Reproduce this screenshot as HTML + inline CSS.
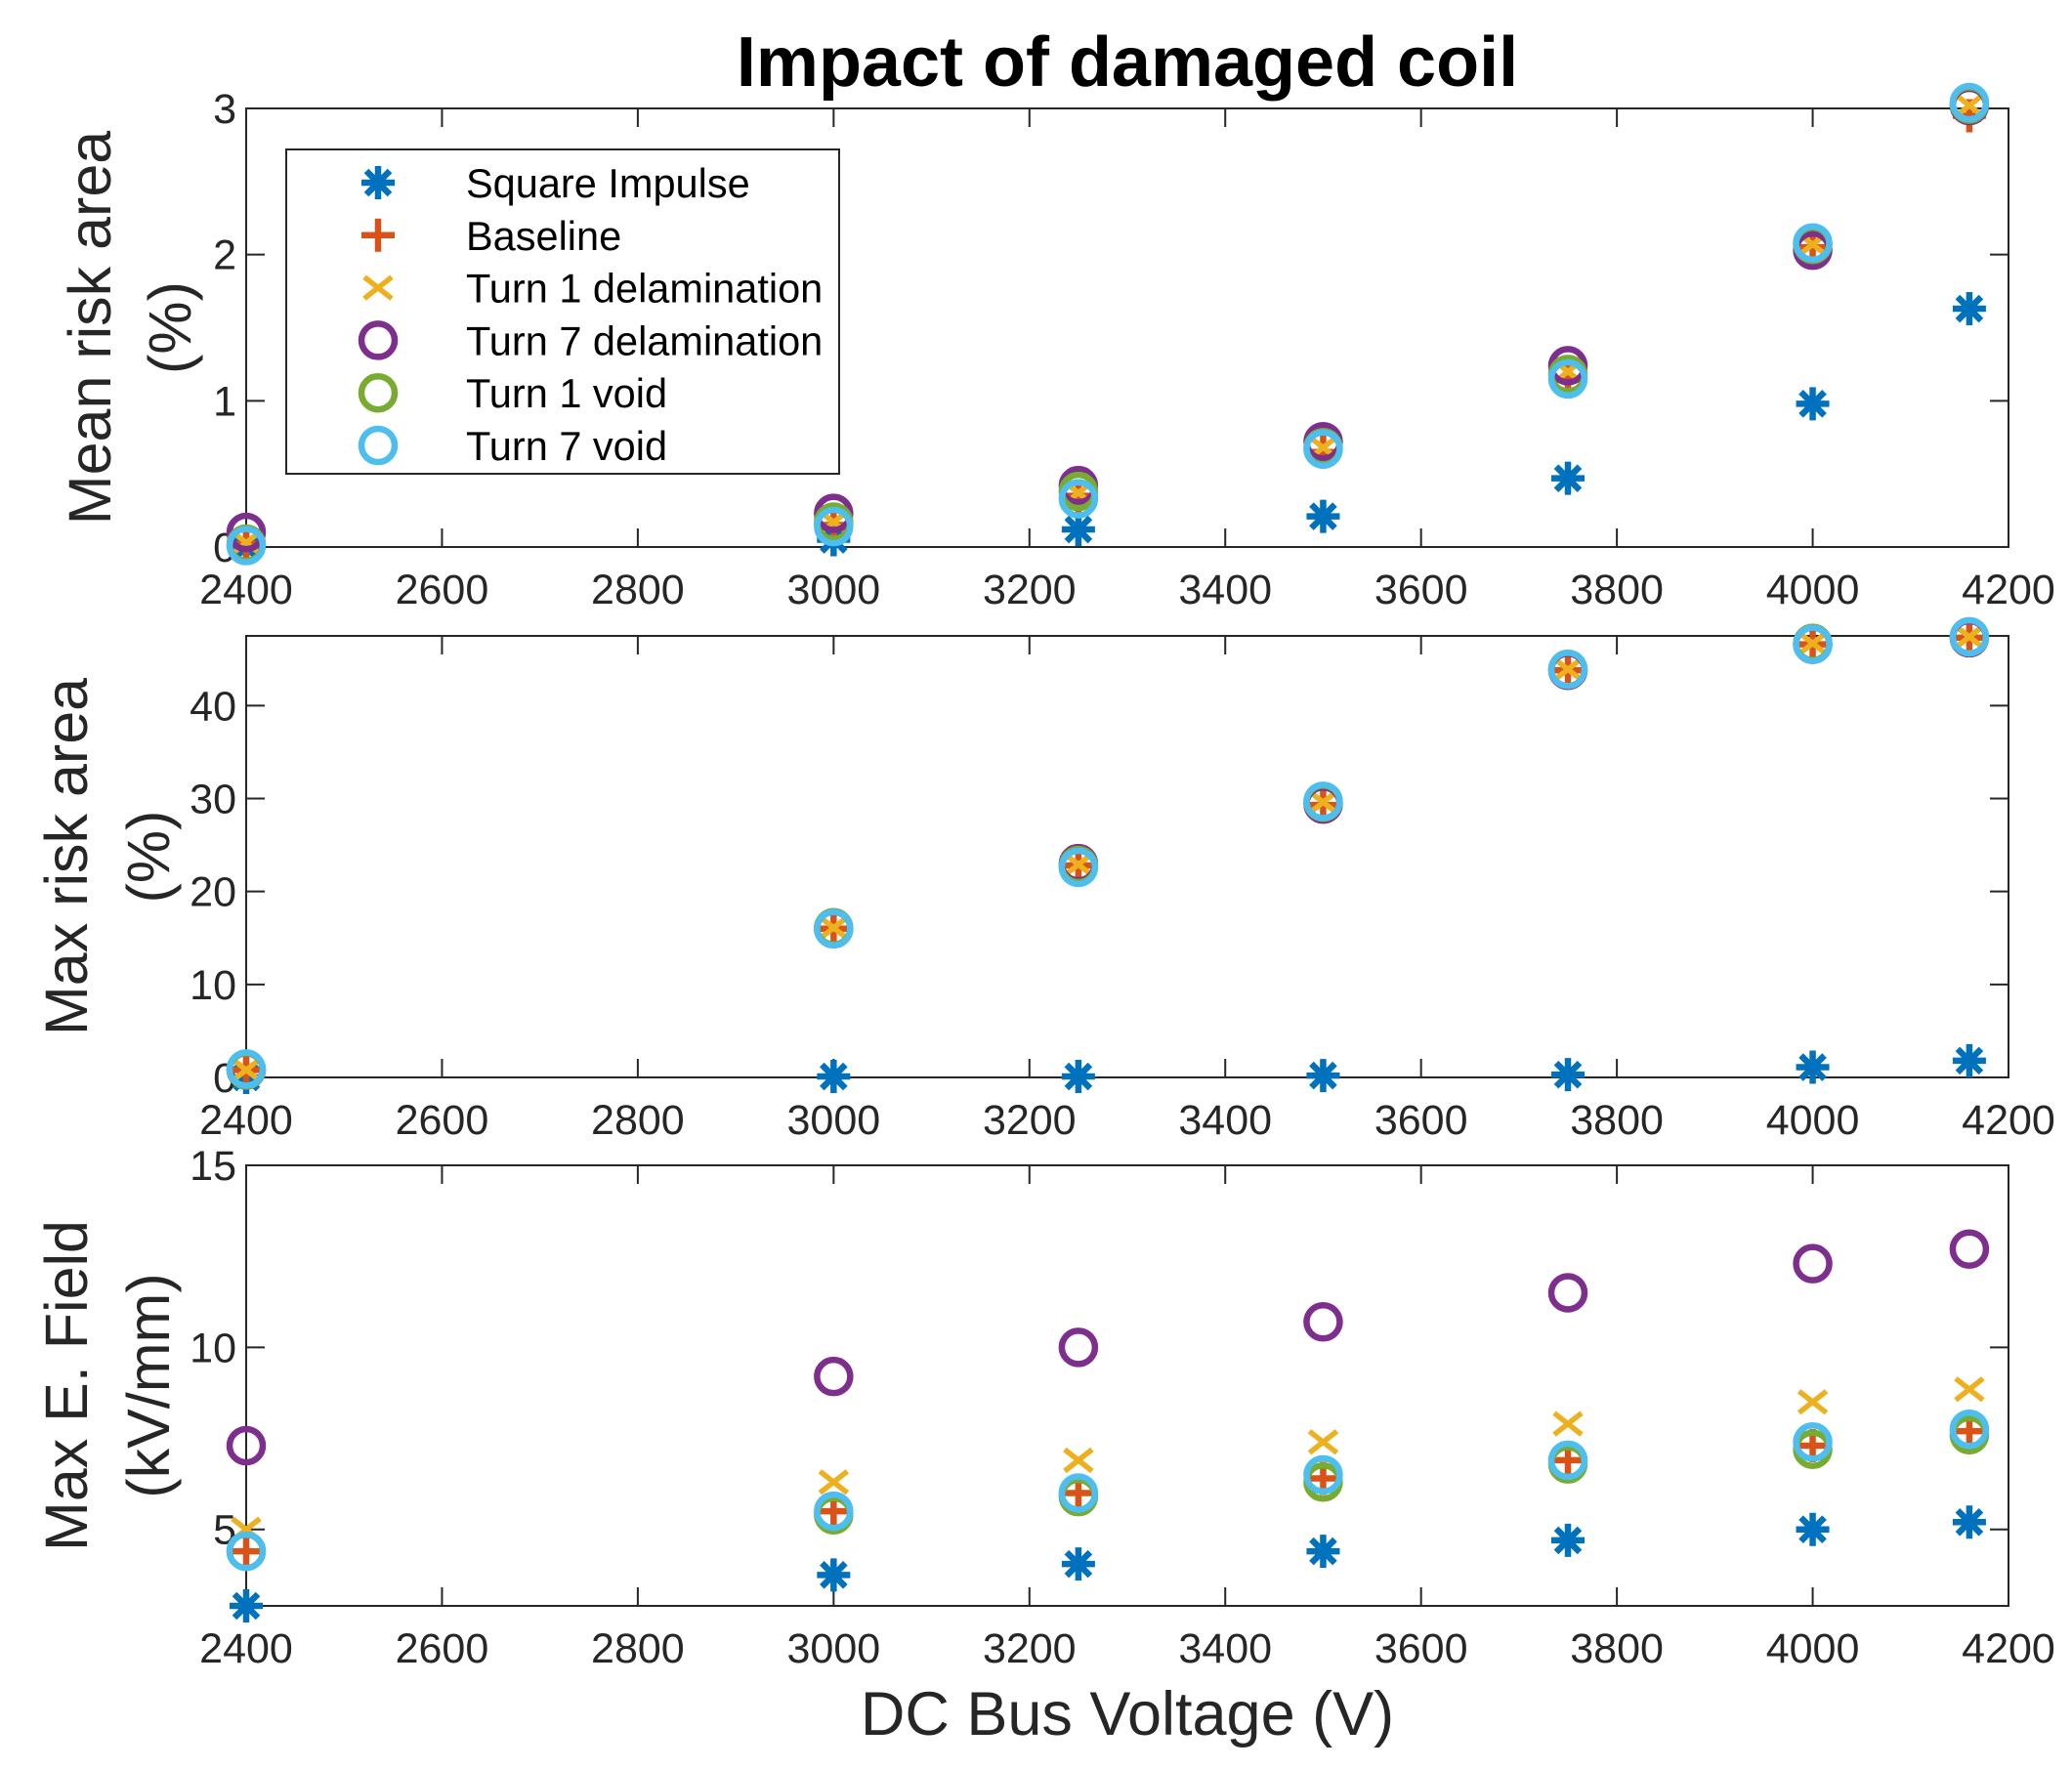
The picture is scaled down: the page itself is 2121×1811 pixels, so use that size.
<!DOCTYPE html>
<html><head><meta charset="utf-8">
<style>
html,body{margin:0;padding:0;background:#fff;}
svg{display:block;font-family:"Liberation Sans",Arial,sans-serif;}
</style></head>
<body>
<svg id="chart" width="2121" height="1811" viewBox="0 0 2121 1811" xmlns="http://www.w3.org/2000/svg">
<rect width="2121" height="1811" fill="#fff"/>
<text x="1154" y="88" text-anchor="middle" font-size="72" font-weight="bold" fill="#000">Impact of damaged coil</text>
<text x="1154" y="1776" text-anchor="middle" font-size="63" fill="#262626">DC Bus Voltage (V)</text>
<g id="panels"></g>
</svg>
<script>
const xValues = [2400, 3000, 3250, 3500, 3750, 4000, 4160];
const xTicks = [2400, 2600, 2800, 3000, 3200, 3400, 3600, 3800, 4000, 4200];
const seriesNames = ["Square Impulse", "Baseline", "Turn 1 delamination", "Turn 7 delamination", "Turn 1 void", "Turn 7 void"];

const meanSquare = [0.0, 0.05, 0.12, 0.21, 0.47, 0.98, 1.63];
const meanBaseline = [0.02, 0.15, 0.35, 0.65, 1.15, 2.05, 2.95];
const meanT1Delam = [0.03, 0.17, 0.37, 0.68, 1.2, 2.07, 3.02];
const meanT7Delam = [0.1, 0.23, 0.42, 0.72, 1.24, 2.03, 3.02];
const meanT1Void = [0.02, 0.17, 0.38, 0.68, 1.18, 2.07, 3.03];
const meanT7Void = [0.01, 0.14, 0.33, 0.67, 1.15, 2.08, 3.04];
const meanTicks = [0, 1, 2, 3];

const maxSquare = [0.0, 0.1, 0.1, 0.2, 0.3, 1.1, 1.8];
const maxBaseline = [0.8, 16.0, 22.8, 29.3, 43.8, 46.6, 47.3];
const maxT1Delam = [0.8, 16.1, 22.9, 29.6, 43.9, 46.7, 47.4];
const maxT7Delam = [0.8, 16.0, 23.0, 29.4, 43.8, 46.6, 47.3];
const maxT1Void = [0.8, 16.1, 22.8, 29.6, 43.9, 46.7, 47.4];
const maxT7Void = [0.9, 16.0, 22.6, 29.7, 43.9, 46.6, 47.4];
const maxTicks = [0, 10, 20, 30, 40];

const fieldSquare = [2.9, 3.75, 4.05, 4.4, 4.7, 5.0, 5.2];
const fieldBaseline = [4.4, 5.5, 6.0, 6.4, 6.9, 7.3, 7.7];
const fieldT1Delam = [5.0, 6.3, 6.9, 7.4, 7.9, 8.5, 8.85];
const fieldT7Delam = [7.3, 9.2, 10.0, 10.7, 11.5, 12.3, 12.7];
const fieldT1Void = [4.4, 5.4, 5.9, 6.3, 6.8, 7.2, 7.6];
const fieldT7Void = [4.4, 5.5, 6.0, 6.5, 6.9, 7.4, 7.75];
const fieldTicks = [5, 10, 15];

const NS = "http://www.w3.org/2000/svg";
const colors = ["#0072BD", "#D95319", "#EDB120", "#7E2F8E", "#77AC30", "#4DBEEE"];
const markers = ["star", "plus", "x", "o", "o", "o"];
const L = 252, R = 2056;
const xMin = 2400, xMax = 4200;
function xs(v){ return L + (v - xMin) / (xMax - xMin) * (R - L); }

function el(tag, attrs, parent){
  const e = document.createElementNS(NS, tag);
  for (const k in attrs) e.setAttribute(k, attrs[k]);
  parent.appendChild(e);
  return e;
}

function drawMarker(g, type, cx, cy, color){
  const m = el("g", {}, g);
  
  
  const sw = 6.5;
  if (type === "o") {
    el("circle", {cx: cx, cy: cy, r: 17, fill: "none", stroke: color, "stroke-width": sw}, m);
  } else if (type === "plus") {
    el("path", {d: `M${cx-17},${cy}H${cx+17}M${cx},${cy-17}V${cy+17}`, stroke: color, "stroke-width": sw, fill: "none"}, m);
  } else if (type === "x") {
    el("path", {d: `M${cx-14},${cy-11}L${cx+14},${cy+11}M${cx-14},${cy+11}L${cx+14},${cy-11}`, stroke: color, "stroke-width": 5.5, fill: "none"}, m);
  } else {
    el("path", {d: `M${cx-17},${cy}H${cx+17}M${cx},${cy-17}V${cy+17}M${cx-12},${cy-12}L${cx+12},${cy+12}M${cx-12},${cy+12}L${cx+12},${cy-12}`, stroke: color, "stroke-width": sw, fill: "none"}, m);
  }
  return m;
}

function drawPanel(name, top, bottom, yMin, yMax, yTicks, series, label1, label2, lx1, lx2){
  const root = document.getElementById("panels");
  const g = el("g", {}, root);
  
  
  const ys = v => bottom - (v - yMin) / (yMax - yMin) * (bottom - top);
  const ax = el("g", {}, g);
  
  
  el("rect", {x: L, y: top, width: R - L, height: bottom - top, fill: "none", stroke: "#262626", "stroke-width": 2}, ax);
  xTicks.forEach(t => {
    const x = xs(t);
    el("path", {d: `M${x},${bottom}V${bottom-19}M${x},${top}V${top+19}`, stroke: "#262626", "stroke-width": 2}, ax);
    const tx = el("text", {x: x, y: bottom + 58, "text-anchor": "middle", "font-size": 43, fill: "#262626"}, ax);
    
    
    tx.textContent = t;
  });
  yTicks.forEach(t => {
    const y = ys(t);
    el("path", {d: `M${L},${y}H${L+19}M${R},${y}H${R-19}`, stroke: "#262626", "stroke-width": 2}, ax);
    const ty = el("text", {x: L - 10, y: y + 15, "text-anchor": "end", "font-size": 43, fill: "#262626"}, ax);
    
    
    ty.textContent = t;
  });
  const cy = (top + bottom) / 2;
  const t1 = el("text", {x: lx1, y: cy, "text-anchor": "middle", "font-size": 61, fill: "#262626", transform: `rotate(-90 ${lx1} ${cy})`, dy: 21}, g);
  
  
  t1.textContent = label1;
  const t2 = el("text", {x: lx2, y: cy, "text-anchor": "middle", "font-size": 61, fill: "#262626", transform: `rotate(-90 ${lx2} ${cy})`, dy: 21}, g);
  
  
  t2.textContent = label2;
  series.forEach((vals, si) => {
    const sg = el("g", {}, g);
    
    
    vals.forEach((v, i) => drawMarker(sg, markers[si], xs(xValues[i]), ys(v), colors[si]));
  });
  return g;
}

drawPanel("mean-risk-panel", 111, 560, 0, 3, meanTicks,
  [meanSquare, meanBaseline, meanT1Delam, meanT7Delam, meanT1Void, meanT7Void],
  "Mean risk area", "(%)", 92, 174);
drawPanel("max-risk-panel", 651, 1103, 0, 47.5, maxTicks,
  [maxSquare, maxBaseline, maxT1Delam, maxT7Delam, maxT1Void, maxT7Void],
  "Max risk area", "(%)", 68, 152);
drawPanel("max-field-panel", 1193, 1644, 2.9, 15, fieldTicks,
  [fieldSquare, fieldBaseline, fieldT1Delam, fieldT7Delam, fieldT1Void, fieldT7Void],
  "Max E. Field", "(kV/mm)", 68, 152);

// legend
const root = document.getElementById("panels");
const lg = el("g", {}, root);


el("rect", {x: 293, y: 153, width: 566, height: 332, fill: "#fff", stroke: "#262626", "stroke-width": 2}, lg);
seriesNames.forEach((n, i) => {
  const y = 187 + i * 53.8;
  const eg = el("g", {}, lg);
  
  
  drawMarker(eg, markers[i], 387, y, colors[i]);
  const t = el("text", {x: 477, y: y + 15, "font-size": 41.5, fill: "#000"}, eg);
  t.textContent = n;
});
</script>
</body></html>
